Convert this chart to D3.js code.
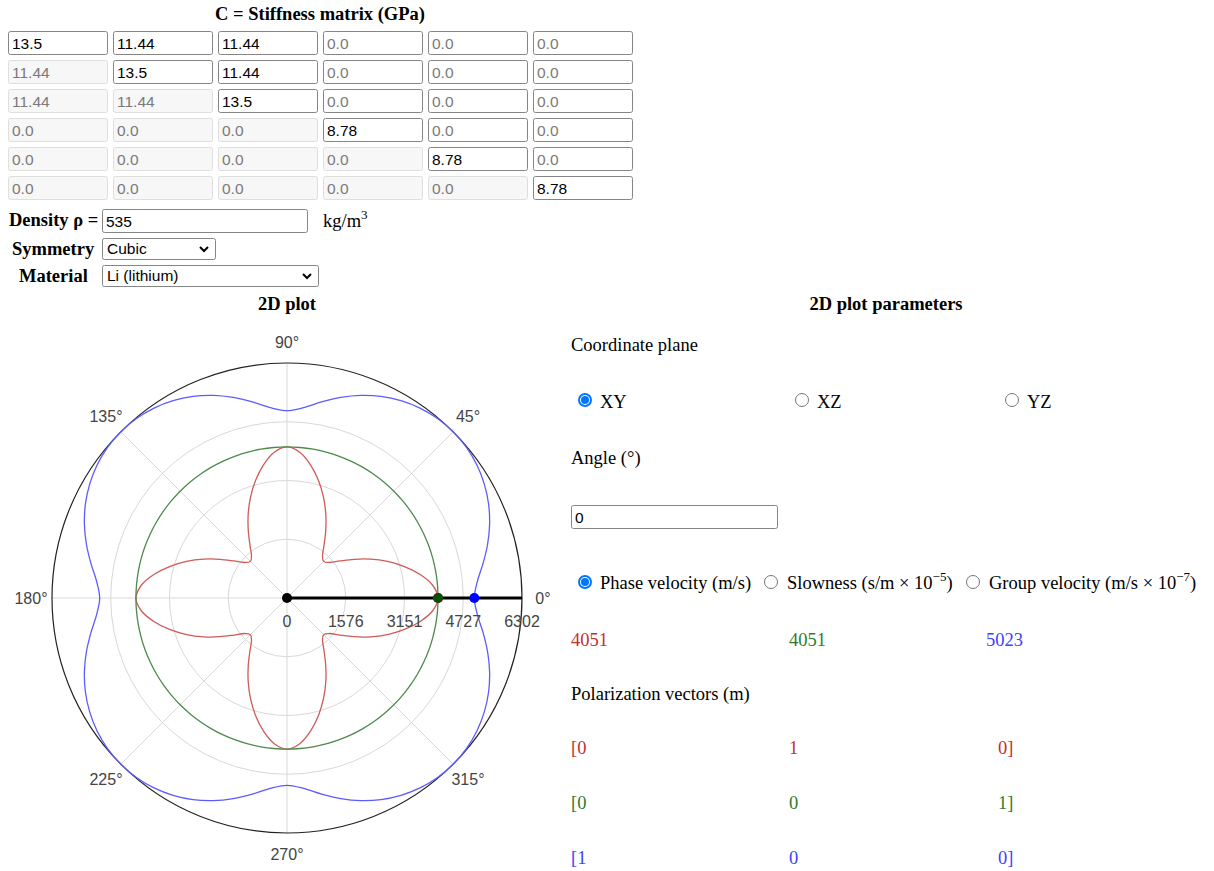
<!DOCTYPE html>
<html>
<head>
<meta charset="utf-8">
<script src="https://cdn.jsdelivr.net/npm/d3@7"></script>
<style>
  html, body { margin: 0; padding: 0; background: #fff; }
  svg { display: block; }
</style>
</head>
<body>
<script>
// ---- Stiffness matrix (GPa), 6x6 Voigt notation ----
const stiffness = [
  [13.5, 11.44, 11.44, 0.0, 0.0, 0.0],
  [11.44, 13.5, 11.44, 0.0, 0.0, 0.0],
  [11.44, 11.44, 13.5, 0.0, 0.0, 0.0],
  [0.0, 0.0, 0.0, 8.78, 0.0, 0.0],
  [0.0, 0.0, 0.0, 0.0, 8.78, 0.0],
  [0.0, 0.0, 0.0, 0.0, 0.0, 8.78]
];
const density = 535;
const symmetryChoice = "Cubic";
const materialChoice = "Li (lithium)";

// ---- Polar plot: sampled directions in the XY plane (degrees) ----
const angleDeg = [
  0, 5, 10, 15, 20, 25, 30, 35, 40, 45, 50, 55, 60, 65, 70, 75, 80, 85,
  90, 95, 100, 105, 110, 115, 120, 125, 130, 135, 140, 145, 150, 155, 160, 165, 170, 175,
  180, 185, 190, 195, 200, 205, 210, 215, 220, 225, 230, 235, 240, 245, 250, 255, 260, 265,
  270, 275, 280, 285, 290, 295, 300, 305, 310, 315, 320, 325, 330, 335, 340, 345, 350, 355
];
// Phase velocities (m/s) for the three wave modes
const slowShear = [
  4051, 3922, 3626, 3261, 2866, 2464, 2076, 1732, 1482, 1388, 1482, 1732, 2076, 2464, 2866, 3261, 3626, 3922,
  4051, 3922, 3626, 3261, 2866, 2464, 2076, 1732, 1482, 1388, 1482, 1732, 2076, 2464, 2866, 3261, 3626, 3922,
  4051, 3922, 3626, 3261, 2866, 2464, 2076, 1732, 1482, 1388, 1482, 1732, 2076, 2464, 2866, 3261, 3626, 3922,
  4051, 3922, 3626, 3261, 2866, 2464, 2076, 1732, 1482, 1388, 1482, 1732, 2076, 2464, 2866, 3261, 3626, 3922
];
const fastShear = [
  4051, 4051, 4051, 4051, 4051, 4051, 4051, 4051, 4051, 4051, 4051, 4051, 4051, 4051, 4051, 4051, 4051, 4051,
  4051, 4051, 4051, 4051, 4051, 4051, 4051, 4051, 4051, 4051, 4051, 4051, 4051, 4051, 4051, 4051, 4051, 4051,
  4051, 4051, 4051, 4051, 4051, 4051, 4051, 4051, 4051, 4051, 4051, 4051, 4051, 4051, 4051, 4051, 4051, 4051,
  4051, 4051, 4051, 4051, 4051, 4051, 4051, 4051, 4051, 4051, 4051, 4051, 4051, 4051, 4051, 4051, 4051, 4051
];
const longitudinal = [
  5023, 5125, 5339, 5569, 5782, 5965, 6110, 6217, 6281, 6302, 6281, 6217, 6110, 5965, 5782, 5569, 5339, 5125,
  5023, 5125, 5339, 5569, 5782, 5965, 6110, 6217, 6281, 6302, 6281, 6217, 6110, 5965, 5782, 5569, 5339, 5125,
  5023, 5125, 5339, 5569, 5782, 5965, 6110, 6217, 6281, 6302, 6281, 6217, 6110, 5965, 5782, 5569, 5339, 5125,
  5023, 5125, 5339, 5569, 5782, 5965, 6110, 6217, 6281, 6302, 6281, 6217, 6110, 5965, 5782, 5569, 5339, 5125
];
const radialTicks = [0, 1576, 3151, 4727, 6302];
const angleTicks = [0, 45, 90, 135, 180, 225, 270, 315];

// Selected direction and its values
const selectedAngle = 0;
const selectedVelocity = [4051, 4051, 5023];
const polarization = [[0, 1, 0], [0, 0, 1], [1, 0, 0]];

const modeStroke = ["#cf5a56", "#4d8a4d", "#5b5bff"];
const modeDot = ["#b00000", "#0b4d0b", "#0000ff"];
const modeText = ["#c03030", "#2f7a2f", "#4040ff"];

const SERIF = "'Liberation Serif','Times New Roman',serif";
const SANS = "'Liberation Sans',Arial,sans-serif";
const SERIF_SIZE = 18.5;
const INPUT_SIZE = 15.5;

const svg = d3.select("body").append("svg")
  .attr("width", 1214).attr("height", 871);
svg.append("rect").attr("width", 1214).attr("height", 871).attr("fill", "#fff");

// ---------- Stiffness matrix inputs ----------
svg.append("text").attr("x", 320).attr("y", 20).attr("text-anchor", "middle")
  .attr("font-family", SERIF).attr("font-weight", "bold").attr("font-size", SERIF_SIZE)
  .attr("fill", "#000").text("C = Stiffness matrix (GPa)");

const colX = d3.scaleLinear().domain([0, 1]).range([8, 113]);
const rowY = d3.scaleLinear().domain([0, 1]).range([31, 60]);

function inputBox(g, x, y, w, h, opts) {
  g.append("rect").attr("x", x + 0.5).attr("y", y + 0.5).attr("width", w - 1).attr("height", h - 1)
    .attr("rx", 2).attr("fill", opts.fill).attr("stroke", opts.stroke).attr("stroke-width", 1);
  g.append("text").attr("x", x + 4).attr("y", y + h / 2 + 5.5)
    .attr("font-family", SANS).attr("font-size", INPUT_SIZE).attr("fill", opts.color).text(opts.text);
}

const matG = svg.append("g");
stiffness.forEach((row, i) => {
  row.forEach((v, j) => {
    const upper = j >= i;
    const txt = Number.isInteger(v) ? v.toFixed(1) : String(v);
    inputBox(matG, colX(j), rowY(i), 100, 24, {
      fill: upper ? "#ffffff" : "#f7f7f7",
      stroke: upper ? "#858585" : "#dedede",
      color: (upper && v !== 0) ? "#000" : "#7a7a7a",
      text: txt
    });
  });
});

// ---------- Density / symmetry / material ----------
svg.append("text").attr("x", 9).attr("y", 226).attr("font-family", SERIF)
  .attr("font-weight", "bold").attr("font-size", SERIF_SIZE).text("Density ρ =");
inputBox(svg, 102, 209, 206, 24, { fill: "#fff", stroke: "#858585", color: "#000", text: String(density) });
const kg = svg.append("text").attr("x", 323).attr("y", 227).attr("font-family", SERIF).attr("font-size", SERIF_SIZE);
kg.append("tspan").text("kg/m");
kg.append("tspan").attr("dy", -8).attr("font-size", 13).text("3");

function selectBox(x, y, w, label) {
  svg.append("rect").attr("x", x + 0.5).attr("y", y + 0.5).attr("width", w - 1).attr("height", 21)
    .attr("rx", 2).attr("fill", "#fff").attr("stroke", "#858585");
  svg.append("text").attr("x", x + 5).attr("y", y + 16).attr("font-family", SANS)
    .attr("font-size", INPUT_SIZE).attr("fill", "#000").text(label);
  const cx = x + w - 12, cy = y + 11;
  svg.append("path").attr("d", `M${cx - 4},${cy - 2} L${cx},${cy + 2} L${cx + 4},${cy - 2}`)
    .attr("fill", "none").attr("stroke", "#000").attr("stroke-width", 2);
}
svg.append("text").attr("x", 12).attr("y", 255).attr("font-family", SERIF)
  .attr("font-weight", "bold").attr("font-size", SERIF_SIZE).text("Symmetry");
selectBox(102, 238, 114, symmetryChoice);
svg.append("text").attr("x", 19).attr("y", 282).attr("font-family", SERIF)
  .attr("font-weight", "bold").attr("font-size", SERIF_SIZE).text("Material");
selectBox(102, 265, 217, materialChoice);

// ---------- Polar plot ----------
svg.append("text").attr("x", 287).attr("y", 310).attr("text-anchor", "middle")
  .attr("font-family", SERIF).attr("font-weight", "bold").attr("font-size", SERIF_SIZE).text("2D plot");

const cx = 287, cy = 598, R = 235;
const r = d3.scaleLinear().domain([0, 6302]).range([0, R]);
const toRad = d => d * Math.PI / 180;
const plot = svg.append("g").attr("transform", `translate(${cx},${cy})`);

// grid rings and spokes
plot.selectAll("circle.ring").data(radialTicks.slice(1, -1)).join("circle")
  .attr("class", "ring").attr("r", d => r(d)).attr("fill", "none")
  .attr("stroke", "#d8d8d8").attr("stroke-width", 1);
plot.selectAll("line.spoke").data(angleTicks).join("line")
  .attr("class", "spoke")
  .attr("x1", 0).attr("y1", 0)
  .attr("x2", d => r(6302) * Math.cos(toRad(d)))
  .attr("y2", d => -r(6302) * Math.sin(toRad(d)))
  .attr("stroke", "#d8d8d8").attr("stroke-width", 1);
plot.append("circle").attr("r", r(6302)).attr("fill", "none")
  .attr("stroke", "#222").attr("stroke-width", 1.2);

// angular labels
plot.selectAll("text.ang").data(angleTicks).join("text")
  .attr("class", "ang")
  .attr("x", d => 256 * Math.cos(toRad(d)))
  .attr("y", d => -256 * Math.sin(toRad(d)) + 5.5)
  .attr("text-anchor", "middle").attr("font-family", SANS).attr("font-size", 16)
  .attr("fill", "#444").text(d => d + "°");

// mode curves
const radial = d3.lineRadial()
  .angle(d => toRad(90 - d[0]))
  .radius(d => r(d[1]))
  .curve(d3.curveCatmullRomClosed.alpha(0.5));
[slowShear, fastShear, longitudinal].forEach((vals, k) => {
  plot.append("path")
    .attr("d", radial(angleDeg.map((a, i) => [a, vals[i]])))
    .attr("fill", "none").attr("stroke", modeStroke[k]).attr("stroke-width", 1.3);
});

// selected direction
plot.append("line").attr("x1", 0).attr("y1", 0)
  .attr("x2", r(6302) * Math.cos(toRad(selectedAngle)))
  .attr("y2", -r(6302) * Math.sin(toRad(selectedAngle)))
  .attr("stroke", "#000").attr("stroke-width", 3);
plot.append("circle").attr("r", 5).attr("fill", "#000");
selectedVelocity.forEach((v, k) => {
  plot.append("circle")
    .attr("cx", r(v) * Math.cos(toRad(selectedAngle)))
    .attr("cy", -r(v) * Math.sin(toRad(selectedAngle)))
    .attr("r", 5).attr("fill", modeDot[k]);
});

// radial tick labels
plot.selectAll("text.rt").data(radialTicks).join("text")
  .attr("class", "rt").attr("x", d => r(d)).attr("y", 29)
  .attr("text-anchor", "middle").attr("font-family", SANS).attr("font-size", 16)
  .attr("fill", "#444").text(d => d);

// ---------- Parameter panel ----------
svg.append("text").attr("x", 886).attr("y", 310).attr("text-anchor", "middle")
  .attr("font-family", SERIF).attr("font-weight", "bold").attr("font-size", SERIF_SIZE).text("2D plot parameters");

function label(x, y, t, color) {
  return svg.append("text").attr("x", x).attr("y", y).attr("font-family", SERIF)
    .attr("font-size", SERIF_SIZE).attr("fill", color || "#000").text(t);
}
function radio(x, y, checked) {
  if (checked) {
    svg.append("circle").attr("cx", x).attr("cy", y).attr("r", 7).attr("fill", "#0075ff");
    svg.append("circle").attr("cx", x).attr("cy", y).attr("r", 5).attr("fill", "#fff");
    svg.append("circle").attr("cx", x).attr("cy", y).attr("r", 4).attr("fill", "#0075ff");
  } else {
    svg.append("circle").attr("cx", x).attr("cy", y).attr("r", 6.5).attr("fill", "#fff")
      .attr("stroke", "#767676").attr("stroke-width", 1);
  }
}

label(571, 351, "Coordinate plane");
const planes = ["XY", "XZ", "YZ"];
const planeX = [585, 802, 1012];
planes.forEach((p, i) => {
  radio(planeX[i], 400, i === 0);
  label(planeX[i] + 15, 408, p);
});

label(571, 464, "Angle (°)");
inputBox(svg, 571, 505, 207, 24, { fill: "#fff", stroke: "#858585", color: "#000", text: String(selectedAngle) });

const quantityX = [585, 771, 973];
radio(quantityX[0], 582, true);
label(600, 589, "Phase velocity (m/s)");
radio(quantityX[1], 582, false);
const sl = label(787, 589, "Slowness (s/m × 10");
sl.append("tspan").attr("dy", -8).attr("font-size", 13).text("−5");
sl.append("tspan").attr("dy", 8).text(")");
radio(quantityX[2], 582, false);
const gv = label(989, 589, "Group velocity (m/s × 10");
gv.append("tspan").attr("dy", -8).attr("font-size", 13).text("−7");
gv.append("tspan").attr("dy", 8).text(")");

const valueX = [571, 789, 986];
selectedVelocity.forEach((v, k) => label(valueX[k], 646, String(v), modeText[k]));

label(571, 700, "Polarization vectors (m)");
const polX = [571, 789, 998];
polarization.forEach((vec, k) => {
  const y = 754 + k * 55;
  label(polX[0], y, "[" + vec[0], modeText[k]);
  label(polX[1], y, String(vec[1]), modeText[k]);
  label(polX[2], y, vec[2] + "]", modeText[k]);
});
</script>
</body>
</html>
